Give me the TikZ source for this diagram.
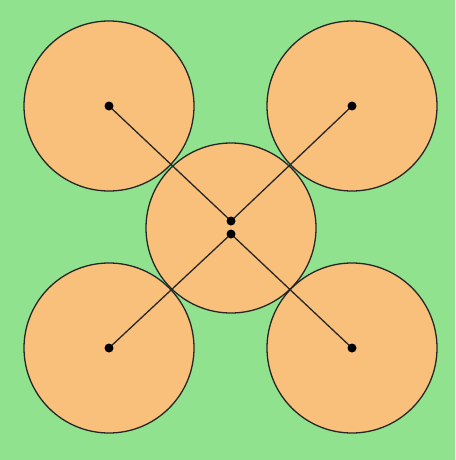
\documentclass[tikz,border=0pt]{standalone}
\definecolor{bggreen}{RGB}{144,226,142}
\definecolor{disc}{RGB}{249,192,124}
\tikzset{
  ball/.style={circle,draw=black!85,line width=1.3pt,fill=disc,minimum size=170pt,inner sep=0pt},
  dot/.style={circle,fill=black,minimum size=9pt,inner sep=0pt},
  link/.style={line width=1.3pt,black!85}
}
\begin{document}
\begin{tikzpicture}[x=1pt,y=-1pt]
\fill[bggreen] (0,0) rectangle (455,460);
\useasboundingbox (0,0) rectangle (455,460);
\node[ball] (ul) at (109,106) {};
\node[ball] (ur) at (352,106) {};
\node[ball] (ll) at (109,348) {};
\node[ball] (lr) at (352,348) {};
\node[ball] (c) at (231,228) {};
\coordinate (cu) at (231,221);
\coordinate (cl) at (231,234);
\draw[link] (ul.center) -- (cu);
\draw[link] (ur.center) -- (cu);
\draw[link] (ll.center) -- (cl);
\draw[link] (lr.center) -- (cl);
\node[dot] (dul) at (ul.center) {};
\node[dot] (dur) at (ur.center) {};
\node[dot] (dll) at (ll.center) {};
\node[dot] (dlr) at (lr.center) {};
\node[dot] (dcu) at (cu) {};
\node[dot] (dcl) at (cl) {};
\end{tikzpicture}
\end{document}
